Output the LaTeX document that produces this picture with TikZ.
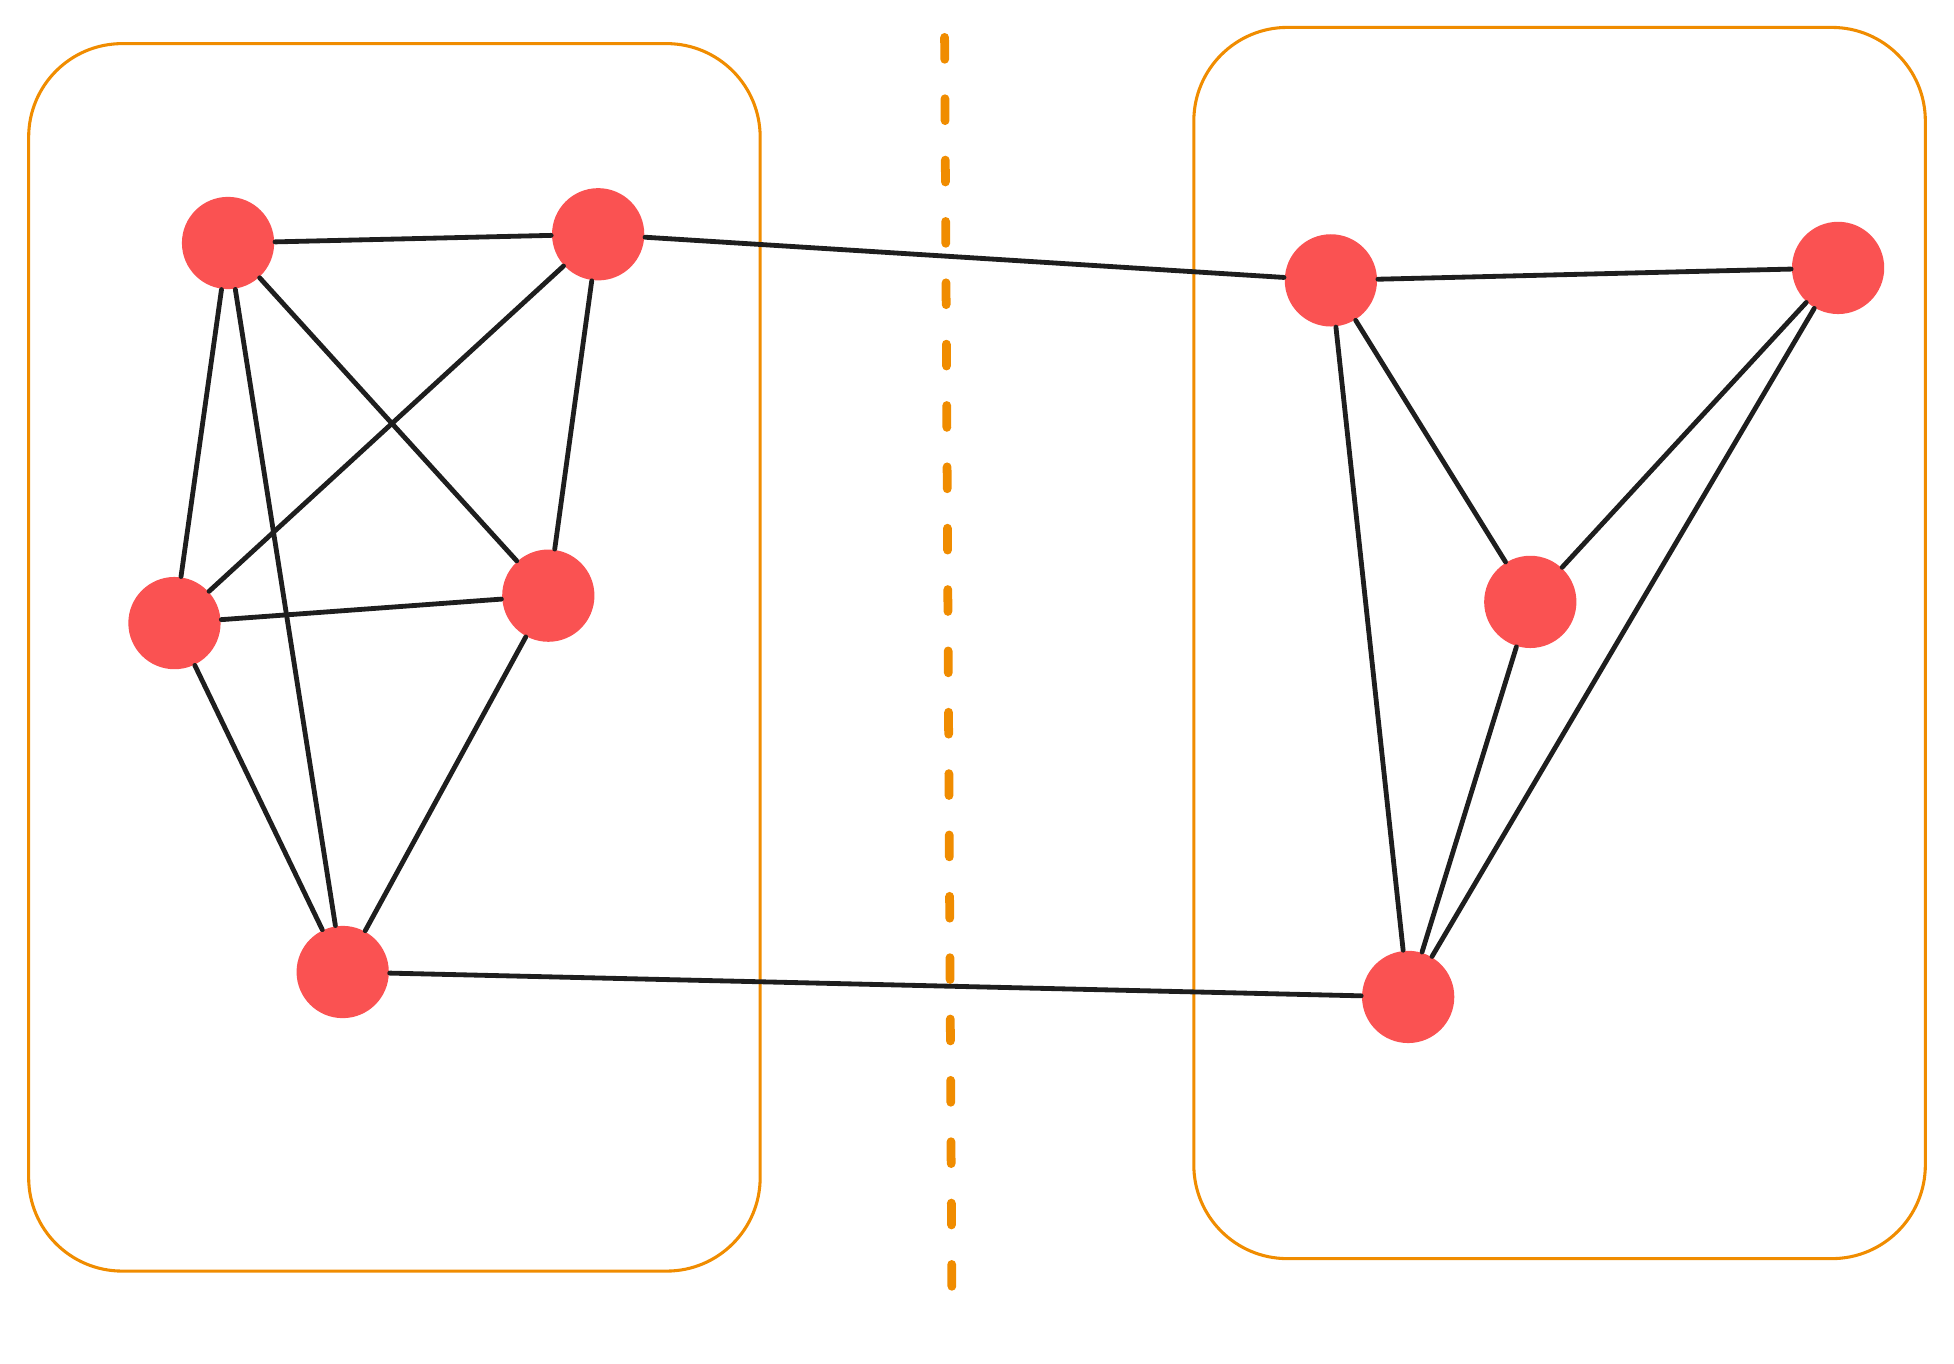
\documentclass[tikz,border=0pt]{standalone}
\definecolor{nred}{HTML}{FA5252}
\definecolor{ink}{HTML}{1E1E1E}
\definecolor{org}{HTML}{F08C00}
\begin{document}
\begin{tikzpicture}[x=0.01cm,y=-0.01cm,
  vert/.style={circle,fill=nred,minimum size=0.74cm,inner sep=0pt},
  edge/.style={ink,line width=1.1pt,line cap=round},
  frame/.style={org,line width=0.7pt,rounded corners=0.75cm}]
\useasboundingbox (0,0) rectangle (1568,1094);
\draw[frame] (23,35) rectangle (610,1020);
\draw[frame] (958,22) rectangle (1545,1010);
\draw[org,line width=2pt,line cap=round,dash pattern=on 5pt off 9pt] (758,30) -- (764,1062);
\node[vert] (A) at (183,195) {};
\node[vert] (B) at (480,188) {};
\node[vert] (C) at (140,500) {};
\node[vert] (D) at (440,478) {};
\node[vert] (E) at (275,780) {};
\node[vert] (F) at (1068,225) {};
\node[vert] (G) at (1475,215) {};
\node[vert] (H) at (1228,483) {};
\node[vert] (I) at (1130,800) {};
\foreach \a/\b in {A/B,A/C,A/E,A/D,B/C,B/D,C/D,C/E,D/E,B/F,E/I,F/G,F/H,F/I,G/H,G/I,H/I}
  \draw[edge] (\a) -- (\b);
\end{tikzpicture}
\end{document}
